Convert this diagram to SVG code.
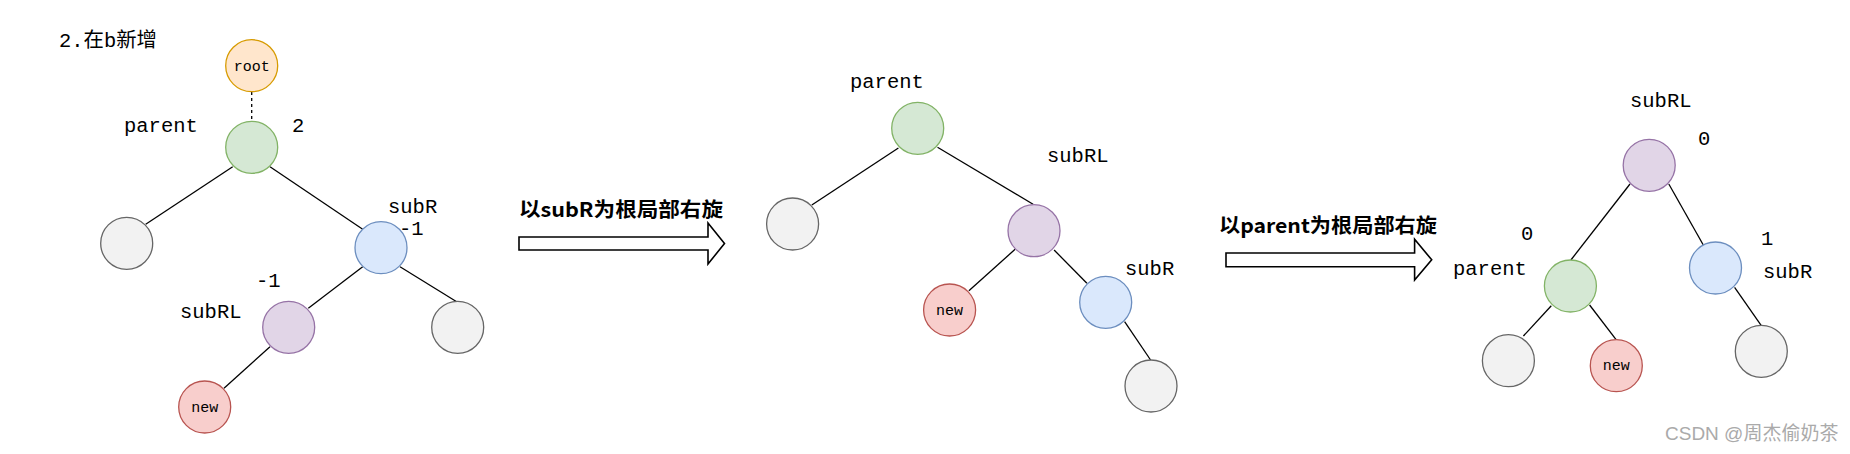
<svg xmlns="http://www.w3.org/2000/svg" width="1850" height="454" viewBox="0 0 1850 454">
<style>
.lbl{font-family:"Liberation Mono","Courier New",monospace;font-size:20.5px;fill:#000}
.nt{font-family:"Liberation Mono","Courier New",monospace;font-size:15px;fill:#000;text-anchor:middle}
.cap{font-family:"Noto Sans CJK SC","Noto Sans",sans-serif;font-size:20px;font-weight:bold;fill:#000}
.edge{stroke:#000;stroke-width:1.3;fill:none}
.arrow{fill:#fff;stroke:#000;stroke-width:1.6;stroke-linejoin:miter}
.c{stroke-width:1.3}
.gray{fill:#f2f2f2;stroke:#666}
.green{fill:#d5e8d4;stroke:#82b366}
.blue{fill:#dae8fc;stroke:#6c8ebf}
.purple{fill:#e1d5e7;stroke:#9673a6}
.red{fill:#f8cecc;stroke:#b85450}
.orange{fill:#ffe6cc;stroke:#d79b00}
</style>
<rect width="1850" height="454" fill="#fff"/>
<text x="59" y="47" font-family="'Liberation Mono','Noto Sans CJK SC',monospace" font-size="20.5" fill="#000" textLength="98" lengthAdjust="spacingAndGlyphs">2.在b新增</text>

<g id="connectors">
<line x1="251.7" y1="92" x2="251.7" y2="121" stroke="#000" stroke-width="1.3" stroke-dasharray="3 3"/>
<line class="edge" x1="232.7" y1="166.7" x2="145.7" y2="224.3"/>
<line class="edge" x1="270" y1="166.7" x2="362.7" y2="229.3"/>
<line class="edge" x1="362.7" y1="266.7" x2="308.3" y2="308.3"/>
<line class="edge" x1="400" y1="266.7" x2="456.7" y2="301.7"/>
<line class="edge" x1="270" y1="346.7" x2="224" y2="388.3"/>

<line class="edge" x1="898.4" y1="148" x2="811.8" y2="205"/>
<line class="edge" x1="937.5" y1="147.3" x2="1033.1" y2="204.3"/>
<line class="edge" x1="1015.1" y1="249.3" x2="968.9" y2="290.7"/>
<line class="edge" x1="1054.1" y1="250" x2="1086.9" y2="283.3"/>
<line class="edge" x1="1124.6" y1="321.7" x2="1150.6" y2="360"/>

<line class="edge" x1="1630" y1="184" x2="1570.9" y2="260"/>
<line class="edge" x1="1668.8" y1="184" x2="1703.3" y2="245"/>
<line class="edge" x1="1551.3" y1="305.7" x2="1523.4" y2="336"/>
<line class="edge" x1="1589.6" y1="305" x2="1615.9" y2="339.3"/>
<line class="edge" x1="1734.6" y1="287.3" x2="1761.3" y2="325.7"/>
</g>

<!-- diagram 1 -->
<g id="d1-root"><circle class="c orange" cx="251.7" cy="65.7" r="26"/><text class="nt" x="251.7" y="70.5">root</text></g>
<g id="d1-parent"><circle class="c green" cx="251.7" cy="147.3" r="26"/></g>
<g id="d1-left"><circle class="c gray" cx="126.7" cy="243.3" r="26"/></g>
<g id="d1-subR"><circle class="c blue" cx="381" cy="247.7" r="26"/></g>
<g id="d1-subRL"><circle class="c purple" cx="288.7" cy="327.3" r="26"/></g>
<g id="d1-right"><circle class="c gray" cx="457.7" cy="327.3" r="26"/></g>
<g id="d1-new"><circle class="c red" cx="204.7" cy="407" r="26"/><text class="nt" x="204.7" y="411.5">new</text></g>
<g id="d1-labels">
<text class="lbl" x="124" y="132">parent</text>
<text class="lbl" x="292" y="131.7">2</text>
<text class="lbl" x="388" y="213">subR</text>
<text class="lbl" x="399" y="235">-1</text>
<text class="lbl" x="256" y="286.7">-1</text>
<text class="lbl" x="180" y="318">subRL</text>
</g>

<!-- arrow 1 -->
<g id="arrow1">
<polygon class="arrow" points="519,237 708,237 708,223 724.5,243.5 708,264 708,250 519,250"/>
<text class="cap" x="519" y="216.7" textLength="204" lengthAdjust="spacingAndGlyphs">以subR为根局部右旋</text>
</g>

<!-- diagram 2 -->
<g id="d2-parent"><circle class="c green" cx="917.7" cy="128.3" r="26"/></g>
<g id="d2-left"><circle class="c gray" cx="792.6" cy="224" r="26"/></g>
<g id="d2-subRL"><circle class="c purple" cx="1034" cy="230.7" r="26"/></g>
<g id="d2-new"><circle class="c red" cx="949.6" cy="310" r="26"/><text class="nt" x="949.6" y="314.5">new</text></g>
<g id="d2-subR"><circle class="c blue" cx="1105.7" cy="302.3" r="26"/></g>
<g id="d2-bottom"><circle class="c gray" cx="1151" cy="386" r="26"/></g>
<g id="d2-labels">
<text class="lbl" x="850" y="88.3">parent</text>
<text class="lbl" x="1047" y="162.3">subRL</text>
<text class="lbl" x="1125" y="275">subR</text>
</g>

<!-- arrow 2 -->
<g id="arrow2">
<polygon class="arrow" points="1226,253 1414.6,253 1414.6,239.3 1431.7,259.8 1414.6,280 1414.6,266.7 1226,266.7"/>
<text class="cap" x="1219" y="233.3" textLength="218" lengthAdjust="spacingAndGlyphs">以parent为根局部右旋</text>
</g>

<!-- diagram 3 -->
<g id="d3-subRL"><circle class="c purple" cx="1649.2" cy="165.3" r="26"/></g>
<g id="d3-parent"><circle class="c green" cx="1570.4" cy="286" r="26"/></g>
<g id="d3-subR"><circle class="c blue" cx="1715.5" cy="268" r="26"/></g>
<g id="d3-left"><circle class="c gray" cx="1508.4" cy="360.7" r="26"/></g>
<g id="d3-new"><circle class="c red" cx="1616.3" cy="365.7" r="26"/><text class="nt" x="1616.3" y="370.2">new</text></g>
<g id="d3-right"><circle class="c gray" cx="1761.3" cy="351.3" r="26"/></g>
<g id="d3-labels">
<text class="lbl" x="1630" y="106.7">subRL</text>
<text class="lbl" x="1698" y="145">0</text>
<text class="lbl" x="1521" y="240">0</text>
<text class="lbl" x="1453" y="275">parent</text>
<text class="lbl" x="1761" y="245">1</text>
<text class="lbl" x="1763" y="278.3">subR</text>
</g>

<text x="1665" y="440" font-family="'Liberation Sans','Noto Sans CJK SC',sans-serif" font-size="19" fill="#aaaaaa">CSDN @周杰偷奶茶</text>
</svg>
